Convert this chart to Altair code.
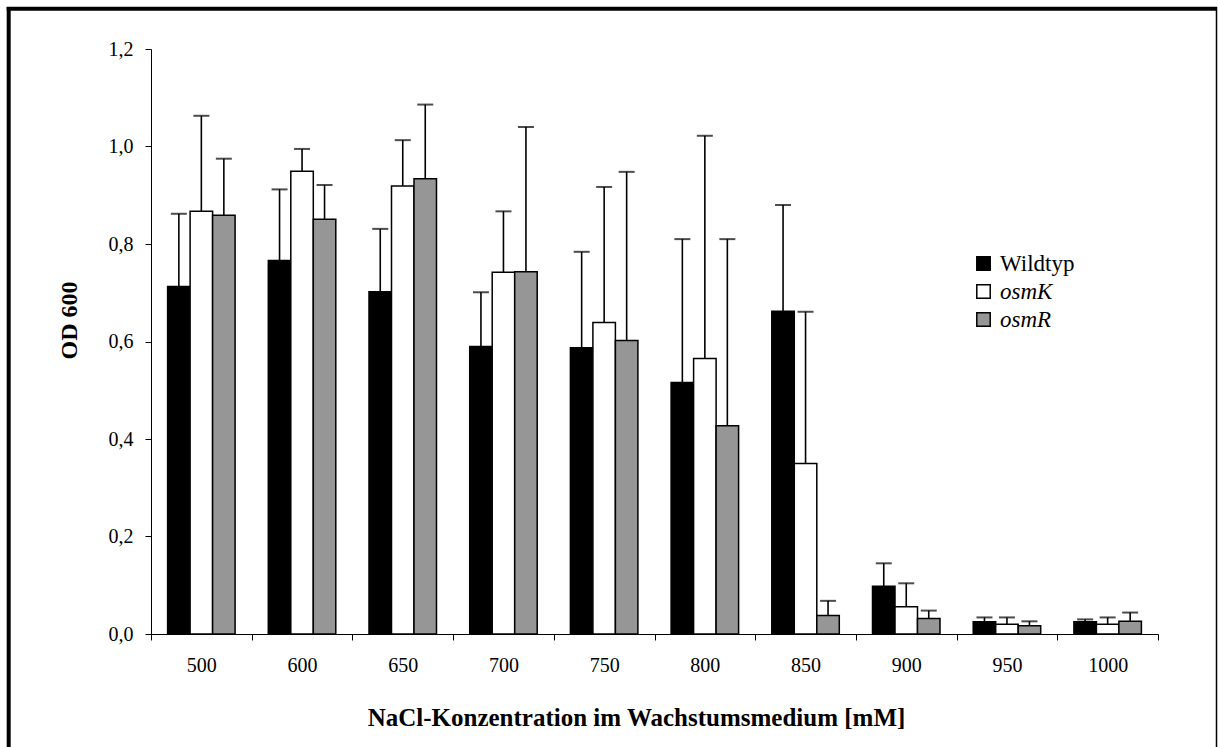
import altair as alt
import pandas as pd

conc = ["500", "600", "650", "700", "750", "800", "850", "900", "950", "1000"]
series = ["Wildtyp", "osmK", "osmR"]

wild = [0.713, 0.766, 0.702, 0.590, 0.587, 0.516, 0.662, 0.098, 0.025, 0.025]
wild_top = [0.862, 0.912, 0.831, 0.701, 0.784, 0.810, 0.880, 0.145, 0.034, 0.030]
osmk = [0.867, 0.949, 0.919, 0.742, 0.639, 0.565, 0.350, 0.056, 0.020, 0.020]
osmk_top = [1.063, 0.995, 1.013, 0.867, 0.917, 1.022, 0.661, 0.104, 0.034, 0.034]
osmr = [0.859, 0.851, 0.934, 0.743, 0.602, 0.427, 0.038, 0.032, 0.017, 0.026]
osmr_top = [0.975, 0.921, 1.086, 1.040, 0.948, 0.810, 0.068, 0.048, 0.026, 0.044]

colors = ["#000000", "#ffffff", "#969696"]

rows = []
for name, vals, tops in [("Wildtyp", wild, wild_top), ("osmK", osmk, osmk_top), ("osmR", osmr, osmr_top)]:
    for c, v, t in zip(conc, vals, tops):
        rows.append({"conc": c, "series": name, "value": v, "top": t})
df = pd.DataFrame(rows)

FONT = "Liberation Serif"

x_enc = alt.X("conc:N", sort=conc,
              scale=alt.Scale(paddingInner=0, paddingOuter=0),
              axis=alt.Axis(title="NaCl-Konzentration im Wachstumsmedium [mM]",
                            labelAngle=0, tickBand="extent", tickSize=6,
                            labelPadding=15, titlePadding=30, titleX=485,
                            labelFont=FONT, labelFontSize=20, labelColor="black",
                            titleFont=FONT, titleFontSize=25, titleFontWeight="bold",
                            titleColor="black", domainColor="black", tickColor="black",
                            domainWidth=1, tickWidth=1, grid=False))
xo_enc = alt.XOffset("series:N", sort=series,
                     scale=alt.Scale(paddingOuter=0.738, paddingInner=0))
y_scale = alt.Scale(domain=[0, 1.2], nice=False, zero=True)
y_enc = alt.Y("value:Q", scale=y_scale,
              axis=alt.Axis(title="OD 600", values=[0, 0.2, 0.4, 0.6, 0.8, 1.0, 1.2],
                            labelExpr="replace(format(datum.value, '.1f'), '.', ',')",
                            tickSize=6, labelPadding=12, titlePadding=27, titleY=271,
                            labelFont=FONT, labelFontSize=20, labelColor="black",
                            titleFont=FONT, titleFontSize=24, titleFontWeight="bold",
                            titleColor="black", domainColor="black", tickColor="black",
                            domainWidth=1, tickWidth=1, grid=False))

base = alt.Chart(df)

bars = base.mark_bar(stroke="black", strokeWidth=1.5).encode(
    x=x_enc,
    xOffset=xo_enc,
    y=y_enc,
    fill=alt.Fill("series:N", sort=series,
                  scale=alt.Scale(domain=series, range=colors),
                  legend=alt.Legend(title=None, orient="none", legendX=821, legendY=203,
                                    symbolType="square", symbolSize=180,
                                    symbolStrokeColor="black", symbolStrokeWidth=1.5,
                                    labelFont=FONT, labelFontSize=23, labelColor="black",
                                    labelOffset=5, rowPadding=4,
                                    labelFontStyle={"expr": "datum.label == 'Wildtyp' ? 'normal' : 'italic'"})),
)

err = base.mark_rule(color="black", strokeWidth=1.6).encode(
    x=alt.X("conc:N", sort=conc),
    xOffset=alt.XOffset("series:N", sort=series),
    y=alt.Y("value:Q"),
    y2="top:Q",
)

caps = base.mark_tick(color="black", orient="horizontal", size=16, thickness=2).encode(
    x=alt.X("conc:N", sort=conc),
    xOffset=alt.XOffset("series:N", sort=series),
    y=alt.Y("top:Q"),
)

frame_df = pd.DataFrame({"k": [0]})
frame = alt.Chart(frame_df)
left = frame.mark_rule(color="black", strokeWidth=4).encode(
    x=alt.value(-142.3), y=alt.value(-42), y2=alt.value(720))
top = frame.mark_rule(color="black", strokeWidth=4).encode(
    x=alt.value(-144.3), x2=alt.value(1066), y=alt.value(-40.3))
right = frame.mark_rule(color="black", strokeWidth=1.5).encode(
    x=alt.value(1065.5), y=alt.value(-42), y2=alt.value(720))

chart = alt.layer(bars, err, caps, left, top, right).properties(
    width=1007, height=585,
    padding={"left": 151, "top": 49, "right": 60, "bottom": 113},
    autosize=alt.AutoSizeParams(type="none"),
    background="white",
).configure_view(stroke=None)

chart.save("out.html", embed_options={"renderer": "svg", "actions": False})
